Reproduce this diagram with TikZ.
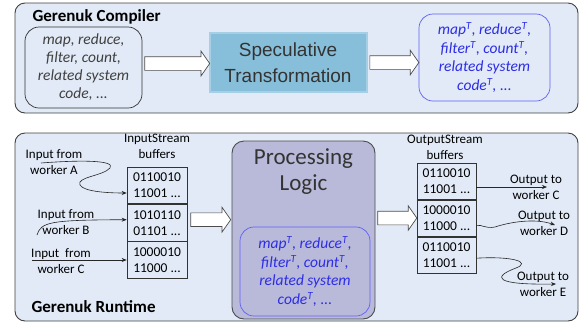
\documentclass[tikz,border=0pt]{standalone}
\usepackage{fontspec}
\setmainfont{Carlito}
\newfontfamily\arialfont{Liberation Sans}
\usetikzlibrary{shapes.arrows,arrows.meta}
\definecolor{panelfill}{RGB}{225,234,246}
\definecolor{specfill}{RGB}{135,191,218}
\definecolor{specline}{RGB}{165,207,229}
\definecolor{procfill}{RGB}{185,186,217}
\definecolor{tblue}{RGB}{45,45,230}
\definecolor{tline}{RGB}{95,95,250}
\tikzset{
  panel/.style={draw=black!75, fill=panelfill, rounded corners=10pt, line width=0.9pt},
  codebox/.style={draw=black!80, rounded corners=14pt, align=center, inner sep=0pt,
    font=\fontsize{15.5}{18}\selectfont\itshape, text=black!75, line width=0.7pt},
  tcodebox/.style={draw=tline, rounded corners=14pt, align=center, inner sep=0pt,
    font=\fontsize{15.5}{18.5}\selectfont\itshape, text=tblue, line width=0.7pt},
  hollow/.style={single arrow, draw=black!70, fill=white, line width=0.7pt, inner xsep=0pt,
    inner ysep=6.5pt, single arrow head extend=5.5pt, single arrow tip angle=110, anchor=tail},
  buf/.style={draw=black!80, minimum width=60pt, minimum height=36.7pt, inner sep=0pt,
    align=center, font=\fontsize{13.5}{16}\selectfont, line width=0.7pt},
  lbl/.style={align=center, font=\fontsize{13}{16}\selectfont, inner sep=0pt},
  title/.style={anchor=west, font=\fontsize{17}{20}\selectfont\bfseries},
  wire/.style={-{Stealth[length=5pt,width=4pt]}, black!85, line width=0.6pt}
}
\newcommand{\Tsup}{\textsuperscript{\textit{T}}}
\begin{document}
\begin{tikzpicture}[x=1pt,y=-1pt]
\useasboundingbox (0,0) rectangle (582,325);
\draw[panel] (15,3) rectangle (578,113);
\draw[panel] (15,133) rectangle (578,321);

% compiler
\node[title] (comptitle) at (29,17) {Gerenuk Compiler};
\node[codebox, minimum width=117pt, minimum height=81pt] (src) at (83.5,67.5)
  {map, reduce,\\filter, count,\\related system\\code, ...};
\node[fill=specfill, draw=specline, line width=2pt, minimum width=157pt, minimum height=59pt,
  align=center, font=\arialfont\fontsize{19}{26}\selectfont, text=black!80] (spec) at (288,62.5)
  {Speculative\\Transformation};
\node[tcodebox, minimum width=131pt, minimum height=87pt] (tcode) at (484.5,57.5)
  {map\Tsup, reduce\Tsup,\\filter\Tsup, count\Tsup,\\related system\\code\Tsup, ...};
\node[hollow, minimum height=65pt] (arr1) at ([xshift=2pt,yshift=4pt]src.east) {};
\node[hollow, minimum height=49pt] (arr2) at ([xshift=2pt]spec.east) {};

% runtime
\node[title] (rttitle) at (28,307) {Gerenuk Runtime};
\node[lbl] (inlbl) at (157,146) {InputStream\\buffers};
\node[buf] (ib1) at (157,185.3) {0110010\\11001 ...};
\node[buf, anchor=north] (ib2) at (ib1.south) {1010110\\01101 ...};
\node[buf, anchor=north] (ib3) at (ib2.south) {1000010\\11000 ...};

\node[fill=procfill, draw=black!70, line width=0.9pt, rounded corners=12pt,
  minimum width=143pt, minimum height=178pt] (proc) at (303.5,230) {};
\node[anchor=north, align=center, font=\fontsize{23}{26}\selectfont, text=black!80]
  (proctitle) at ([yshift=-5pt]proc.north) {Processing\\Logic};
\node[tcodebox, minimum width=130pt, minimum height=89pt] (tcode2) at (305,271.5)
  {map\Tsup, reduce\Tsup,\\filter\Tsup, count\Tsup,\\related system\\code\Tsup, ...};

\node[lbl] (outlbl) at (445,147) {OutputStream\\buffers};
\node[buf, minimum width=59pt, minimum height=36.3pt] (ob1) at (446.5,181.2) {0110010\\11001 ...};
\node[buf, minimum width=59pt, minimum height=36.3pt, anchor=north] (ob2) at (ob1.south) {1000010\\11000 ...};
\node[buf, minimum width=59pt, minimum height=36.3pt, anchor=north] (ob3) at (ob2.south) {0110010\\11001 ...};

\node[hollow, minimum height=40pt] (arr3) at ([xshift=3pt,yshift=3pt]ib2.east) {};
\node[hollow, minimum height=39pt] (arr4) at ([xshift=2pt,yshift=12pt]proc.east) {};

% inputs
\node[lbl] (inAlbl) at (54,162) {Input from\\worker A};
\node[lbl] (inBlbl) at (66,222) {Input from\\worker B};
\node[lbl] (inClbl) at (61,261) {Input~~from\\worker C};
\coordinate (inA) at (41,163);
\coordinate (inB) at (37,235);
\coordinate (inC) at (32,260);
\draw[wire] (inA) .. controls (80,160) and (116,160) .. (110,168)
  .. controls (103,176) and (76,177) .. (80,185)
  .. controls (84,192) and (110,193) .. ([yshift=-7.7pt]ib1.west);
\draw[wire] (inB) .. controls (41,222) and (50,220) .. ([yshift=3pt]ib2.west);
\draw[wire] (inC) -- (inC -| ib3.west);

% outputs
\node[lbl] (oClbl) at (536,187) {Output to\\worker C};
\node[lbl] (oDlbl) at (544,223.5) {Output to\\worker D};
\node[lbl] (oElbl) at (543,284.5) {Output to\\worker E};
\coordinate (oC) at (547,187);
\coordinate (oD) at (555,225);
\coordinate (oE) at (556,284);
\draw[wire] ([yshift=-5.8pt]ob1.east) -- (oC);
\draw[wire] ([yshift=-7.5pt]ob2.east) .. controls (482,224) and (485,229) .. (495,227)
  .. controls (510,222) and (535,218) .. (oD);
\draw[wire] ([yshift=-3pt]ob3.east) .. controls (512,256) and (532,262) .. (516,268)
  .. controls (492,277) and (494,285) .. (oE);
\end{tikzpicture}
\end{document}
